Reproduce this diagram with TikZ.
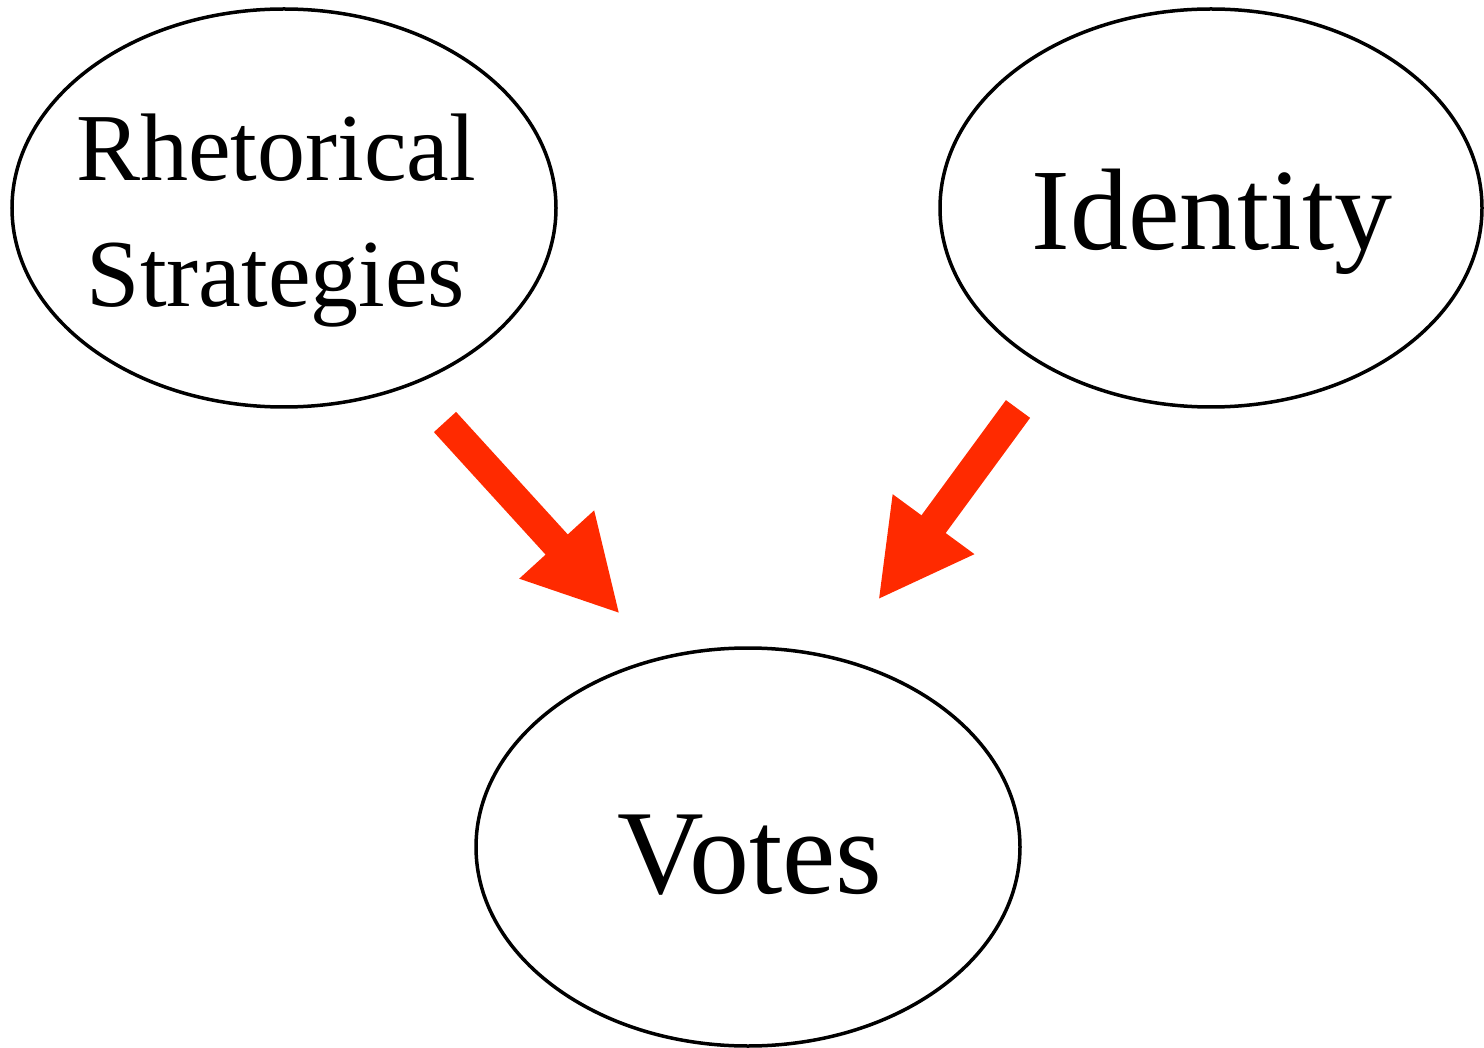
\documentclass[tikz,border=0pt]{standalone}
\usepackage{fontspec}
\setmainfont{Liberation Serif}
\usetikzlibrary{arrows.meta}
\definecolor{arrred}{RGB}{255,42,0}
\begin{document}
\begin{tikzpicture}[x=1pt,y=-1pt,
  oval/.style={draw=black,line width=3.5pt},
  arr/.style={draw=arrred,line width=30pt,-{Triangle[length=94pt,width=94pt]}}]
\useasboundingbox (0,0) rectangle (1484,1048);
\draw[oval] (284,208) ellipse [x radius=272, y radius=199];
\draw[oval] (1211,208) ellipse [x radius=271, y radius=199];
\draw[oval] (748,847) ellipse [x radius=272, y radius=199];
\node[align=center,font=\fontsize{96}{126}\selectfont,inner sep=0pt] (r) at (276,221) {Rhetorical\\Strategies};
\node[font=\fontsize{116}{130}\selectfont,inner sep=0pt,anchor=base] (i) at (1212,250) {Identity};
\node[font=\fontsize{120}{130}\selectfont,inner sep=0pt,anchor=base] (v) at (750,893) {Votes};
\coordinate (r1) at (445,422);
\coordinate (r2) at (620,614);
\coordinate (i1) at (1018,409);
\coordinate (i2) at (878,600);
\draw[arr] (r1) -- (r2);
\draw[arr] (i1) -- (i2);
\end{tikzpicture}
\end{document}
